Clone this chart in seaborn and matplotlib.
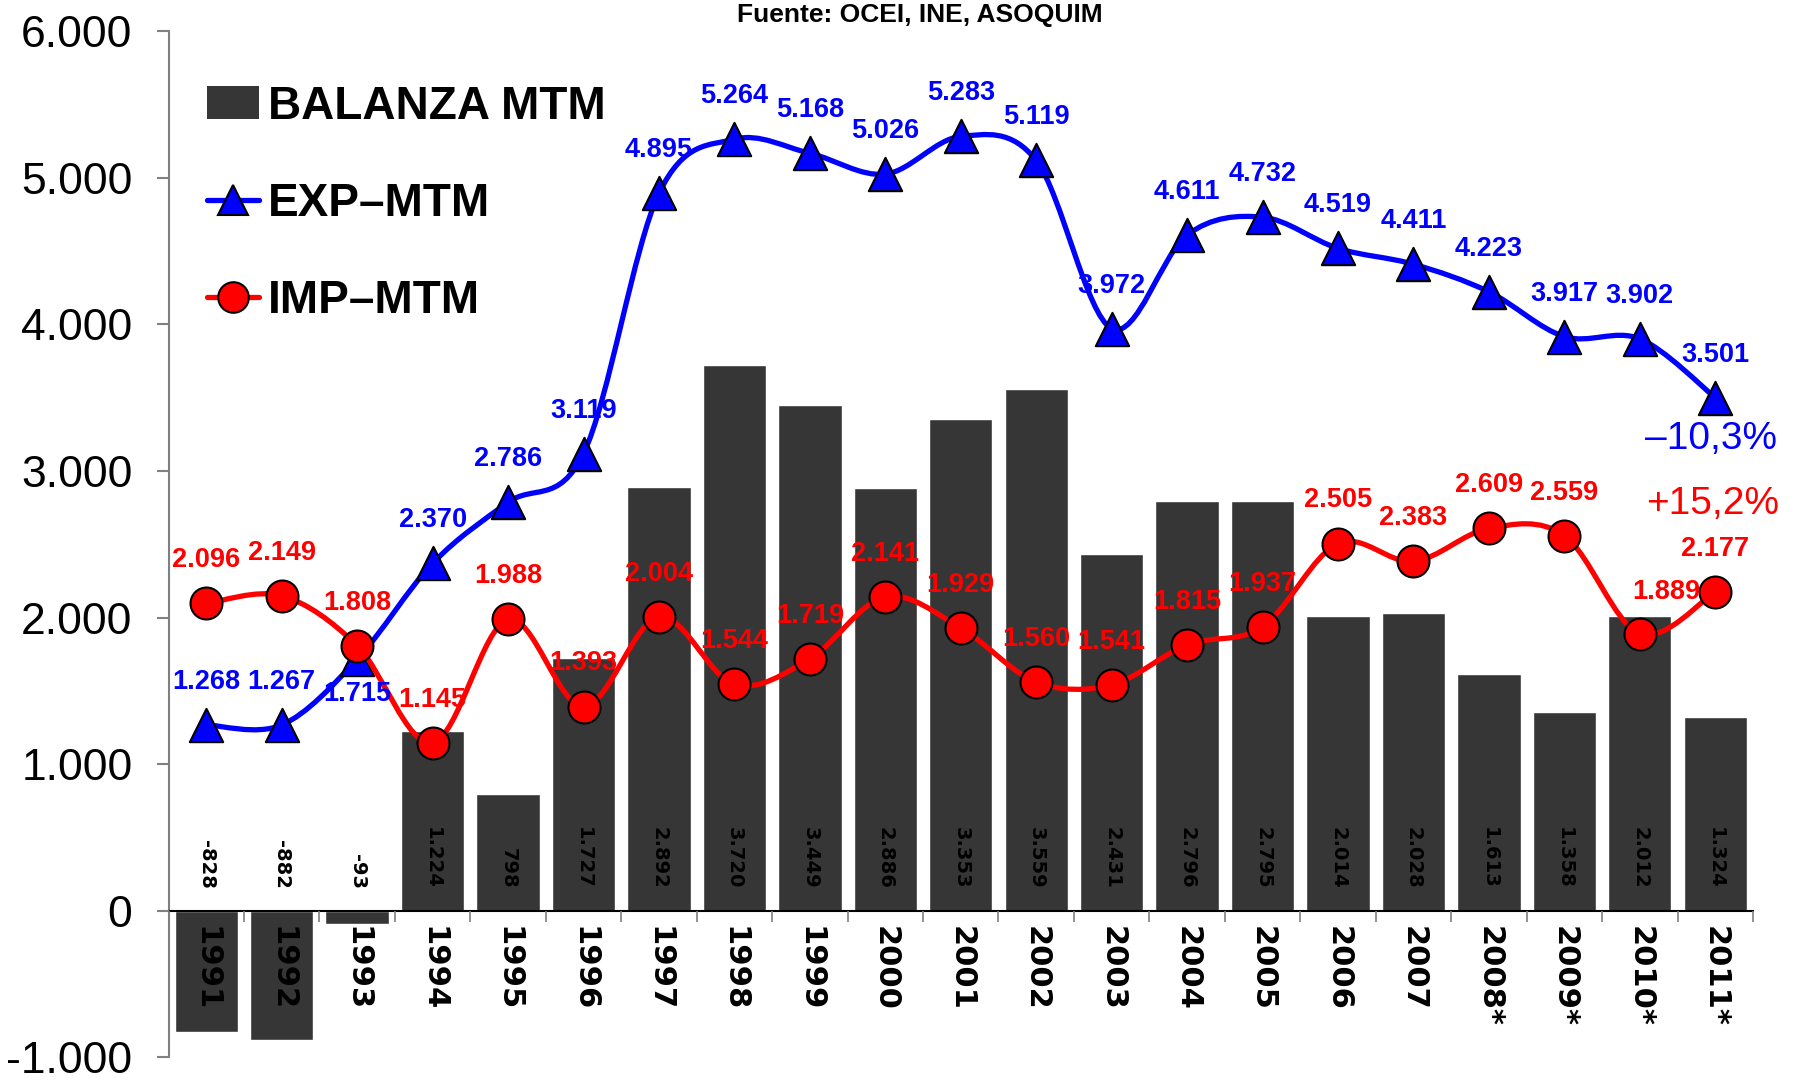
import numpy as np
import matplotlib
matplotlib.use("Agg")
import matplotlib.pyplot as plt
import seaborn as sns
from matplotlib.path import Path
from matplotlib.patches import PathPatch, Patch
from matplotlib.lines import Line2D

YEARS = ["1991", "1992", "1993", "1994", "1995", "1996", "1997", "1998", "1999", "2000",
         "2001", "2002", "2003", "2004", "2005", "2006", "2007", "2008*", "2009*", "2010*", "2011*"]
BALANZA = [-828, -882, -93, 1224, 798, 1727, 2892, 3720, 3449, 2886,
           3353, 3559, 2431, 2796, 2795, 2014, 2028, 1613, 1358, 2012, 1324]
EXP = [1268, 1267, 1715, 2370, 2786, 3119, 4895, 5264, 5168, 5026,
       5283, 5119, 3972, 4611, 4732, 4519, 4411, 4223, 3917, 3902, 3501]
IMP = [2096, 2149, 1808, 1145, 1988, 1393, 2004, 1544, 1719, 2141,
       1929, 1560, 1541, 1815, 1937, 2505, 2383, 2609, 2559, 1889, 2177]
Y_TICKS = [-1000, 0, 1000, 2000, 3000, 4000, 5000, 6000]
Y_TICK_LABELS = ["-1.000", "0", "1.000", "2.000", "3.000", "4.000", "5.000", "6.000"]
LEGEND_LABELS = ["BALANZA MTM", "EXP\u2013MTM", "IMP\u2013MTM"]
TITLE = "Fuente: OCEI, INE, ASOQUIM"
EXP_CHANGE = "\u201310,3%"
IMP_CHANGE = "+15,2%"

BAR_COLOR = "#363636"
BLUE = "#0000FF"
RED = "#FF0000"

# label offsets (points) that differ from the default "just above"
EXP_OFFSETS = {2: (0, -25)}
IMP_OFFSETS = {19: (19, 30)}


def fmt(v):
    return f"{v:,}".replace(",", ".")


def smooth_path(xs, ys):
    # excel-like smoothed line: catmull-rom segments as cubic beziers
    pts = np.column_stack([xs, ys]).astype(float)
    n = len(pts)
    verts = [pts[0]]
    codes = [Path.MOVETO]
    for i in range(n - 1):
        p0 = pts[i - 1] if i > 0 else pts[i]
        p1 = pts[i]
        p2 = pts[i + 1]
        p3 = pts[i + 2] if i + 2 < n else pts[i + 1]
        verts += [p1 + (p2 - p0) / 6, p2 - (p3 - p1) / 6, p2]
        codes += [Path.CURVE4] * 3
    return Path(verts, codes)


sns.set_style("ticks")
plt.rcParams["font.family"] = ["Liberation Sans", "DejaVu Sans"]
plt.rcParams["text.color"] = "black"

fig = plt.figure(figsize=(17.97, 10.81), dpi=100)
ax = fig.add_axes([0.0938, 0.022, 0.8817, 0.949])

sns.barplot(x=YEARS, y=BALANZA, color=BAR_COLOR, saturation=1, width=0.84, ax=ax, zorder=1)

xs = np.arange(len(YEARS))
ax.add_patch(PathPatch(smooth_path(xs, EXP), fill=False, edgecolor=BLUE, lw=3.8, zorder=3))
sns.scatterplot(x=xs, y=EXP, marker="^", s=24 ** 2, color=BLUE, edgecolor="black",
                linewidth=1.5, zorder=4, ax=ax, legend=False)
ax.add_patch(PathPatch(smooth_path(xs, IMP), fill=False, edgecolor=RED, lw=3.8, zorder=5))
sns.scatterplot(x=xs, y=IMP, marker="o", s=23 ** 2, color=RED, edgecolor="black",
                linewidth=1.5, zorder=6, ax=ax, legend=False)

# value labels
for i, v in enumerate(BALANZA):
    ax.text(i, 150, fmt(v), rotation=270, ha="center", va="bottom", fontsize=14,
            fontweight="bold", family="DejaVu Sans", color="black", zorder=7)
for i, v in enumerate(EXP):
    ax.annotate(fmt(v), (i, v), xytext=EXP_OFFSETS.get(i, (0, 31)), textcoords="offset points",
                ha="center", va="center", color=BLUE, fontsize=19.5, fontweight="bold", zorder=8)
for i, v in enumerate(IMP):
    ax.annotate(fmt(v), (i, v), xytext=IMP_OFFSETS.get(i, (0, 31)), textcoords="offset points",
                ha="center", va="center", color=RED, fontsize=19.5, fontweight="bold", zorder=8)

ax.annotate(EXP_CHANGE, (len(YEARS) - 1, EXP[-1]), xytext=(-3, -30), textcoords="offset points",
            ha="center", va="center", color=BLUE, fontsize=28, zorder=8)
ax.annotate(IMP_CHANGE, (len(YEARS) - 1, IMP[-1]), xytext=(-2, 63), textcoords="offset points",
            ha="center", va="center", color=RED, fontsize=28, zorder=8)

# axes
ax.set_xlim(-0.5, len(YEARS) - 0.5)
ax.set_ylim(-1000, 6000)
ax.set_xlabel("")
ax.set_ylabel("")
ax.set_axisbelow(False)
sns.despine(ax=ax)
ax.spines["bottom"].set_position(("data", 0))
ax.spines["bottom"].set_color("black")
ax.spines["bottom"].set_linewidth(1.5)
ax.spines["left"].set_color("#808080")
ax.spines["left"].set_linewidth(1.5)

ax.set_yticks(Y_TICKS, Y_TICK_LABELS)
ax.tick_params(axis="y", length=9, width=1.5, color="#808080", pad=17, labelsize=32,
               labelcolor="black")

ax.set_xticks(xs, YEARS, rotation=270, fontsize=22, fontweight="bold", family="DejaVu Sans")
ax.tick_params(axis="x", which="major", length=0, pad=11, labelcolor="black")
ax.set_xticks(np.arange(-0.5, len(YEARS)), minor=True)
ax.tick_params(axis="x", which="minor", length=8, width=1.2, color="#808080")

handles = [Patch(facecolor=BAR_COLOR, edgecolor="none"),
           Line2D([], [], color=BLUE, lw=3.8, marker="^", ms=22, mfc=BLUE, mec="black", mew=1.5),
           Line2D([], [], color=RED, lw=3.8, marker="o", ms=22, mfc=RED, mec="black", mew=1.5)]
ax.legend(handles, LEGEND_LABELS, loc="upper left", bbox_to_anchor=(0.013, 0.966), frameon=False,
          prop=dict(weight="bold", size=33), handlelength=1.13, labelcolor="black",
          handletextpad=0.18, labelspacing=1.16, borderaxespad=0)

fig.text(0.512, 0.986, TITLE, ha="center", va="center", fontsize=19, fontweight="bold",
         color="black")

fig.savefig("out.png", dpi=100)
